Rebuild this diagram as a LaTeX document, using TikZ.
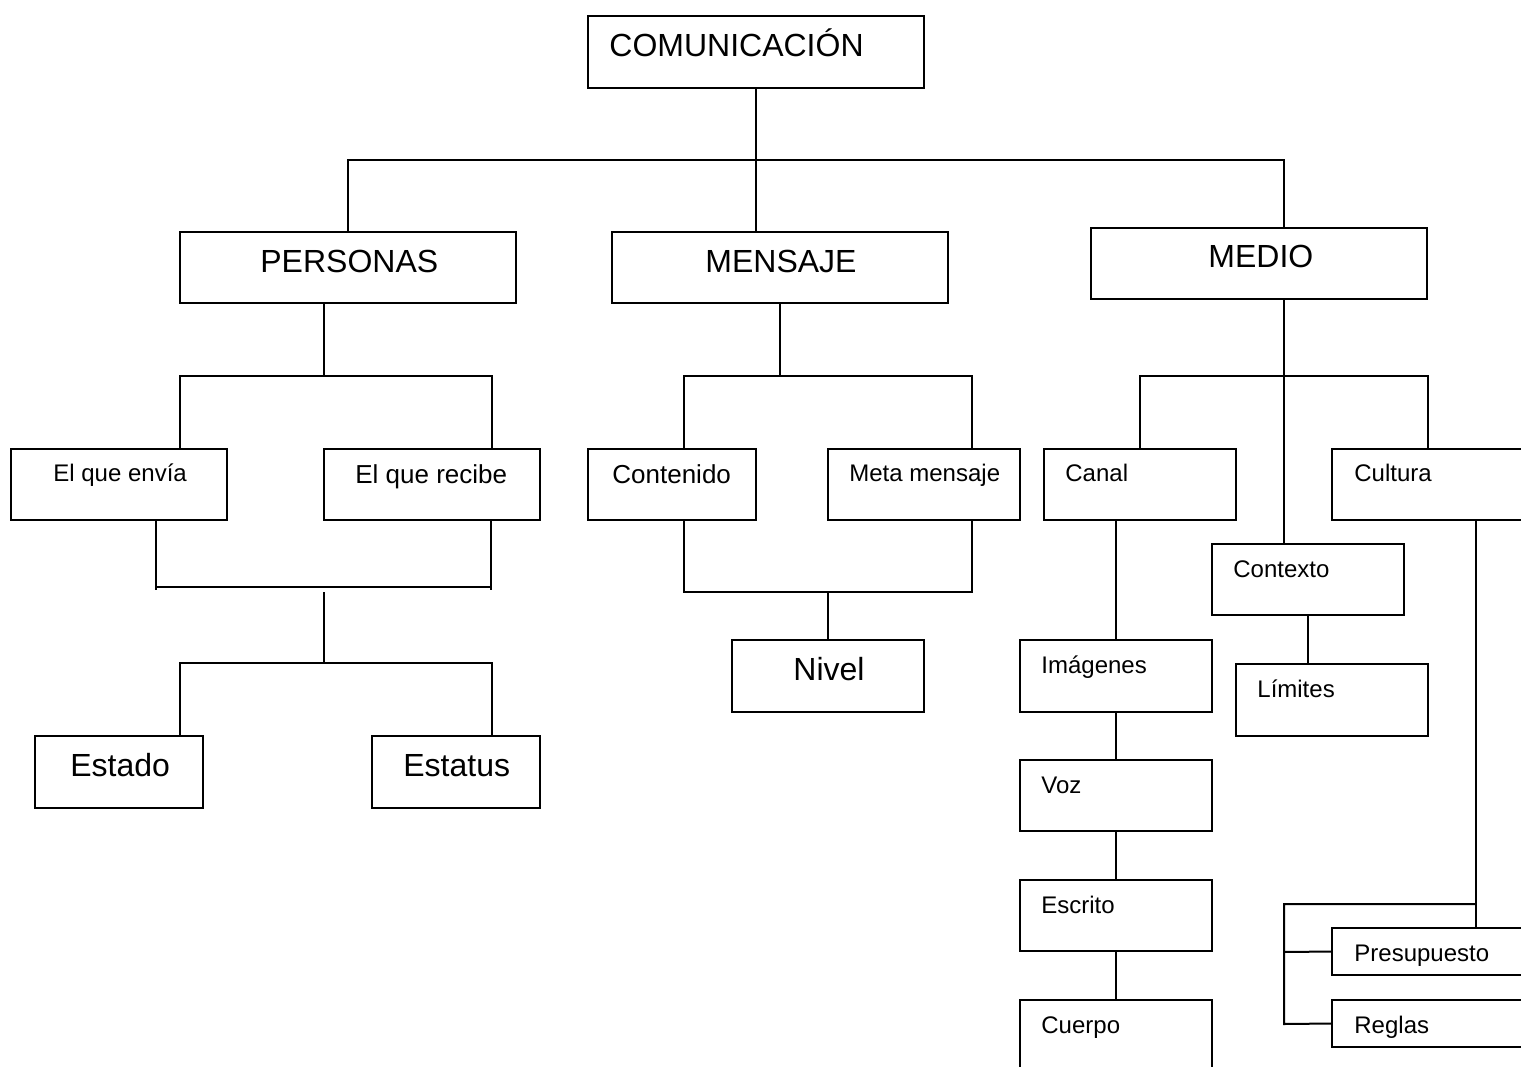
\documentclass[tikz,border=0pt]{standalone}
\usepackage{fontspec}
\setmainfont{Liberation Sans}
\begin{document}
\begin{tikzpicture}[x=0.5pt,y=-0.5pt,
  box/.style={draw,line width=1pt,anchor=north west,inner sep=0pt,outer sep=0pt},
  big/.style={anchor=base west,inner sep=0pt,font=\fontsize{16}{19}\selectfont},
  mid/.style={anchor=base west,inner sep=0pt,font=\fontsize{13}{16}\selectfont},
  sml/.style={anchor=base west,inner sep=0pt,font=\fontsize{12}{14}\selectfont},
  wire/.style={line width=1pt}]
\newcommand\bx[5]{\node[box,minimum width={(#4-#2)*0.5pt},minimum height={(#5-#3)*0.5pt}] (#1) at (#2,#3) {};}
\useasboundingbox (0,0) rectangle (1521,1066);
\fill[white] (0,0) rectangle (1521,1066);
\clip (0,0) rectangle (1521,1066);

% boxes (pixel grid, y downwards)
\bx{com}{588}{16}{924}{88}
\bx{per}{180}{232}{516}{303}
\bx{men}{612}{232}{948}{303}
\bx{med}{1091}{228}{1427}{299}
\bx{env}{11}{449}{227}{520}
\bx{rec}{324}{449}{540}{520}
\bx{con}{588}{449}{756}{520}
\bx{met}{828}{449}{1020}{520}
\bx{can}{1044}{449}{1236}{520}
\bx{cul}{1332}{449}{1640}{520}
\bx{ctx}{1212}{544}{1404}{615}
\bx{lim}{1236}{664}{1428}{736}
\bx{niv}{732}{640}{924}{712}
\bx{est}{35}{736}{203}{808}
\bx{sta}{372}{736}{540}{808}
\bx{ima}{1020}{640}{1212}{712}
\bx{voz}{1020}{760}{1212}{831}
\bx{esc}{1020}{880}{1212}{951}
\bx{cue}{1020}{1000}{1212}{1120}
\bx{pre}{1332}{928}{1640}{975}
\bx{reg}{1332}{1000}{1640}{1047}

% labels
\node[big] (comt) at (609,56) {COMUNICACIÓN};
\node[big] (pert) at (260,272) {PERSONAS};
\node[big] (ment) at (705,272) {MENSAJE};
\node[big] (medt) at (1208,267) {MEDIO};
\node[sml] (envt) at (53,481) {El que envía};
\node[mid] (rect) at (355,483) {El que recibe};
\node[mid] (cont) at (612,483) {Contenido};
\node[sml] (mett) at (849,481) {Meta mensaje};
\node[sml] (cant) at (1065,481) {Canal};
\node[sml] (cult) at (1354,481) {Cultura};
\node[sml] (ctxt) at (1233,577) {Contexto};
\node[sml] (limt) at (1257,697) {Límites};
\node[big] (nivt) at (793,680) {Nivel};
\node[big] (estt) at (70,776) {Estado};
\node[big] (stat) at (403,776) {Estatus};
\node[sml] (imat) at (1041,673) {Imágenes};
\node[sml] (vozt) at (1041,793) {Voz};
\node[sml] (esct) at (1041,913) {Escrito};
\node[sml] (cuet) at (1041,1033) {Cuerpo};
\node[sml] (pret) at (1354,961) {Presupuesto};
\node[sml] (regt) at (1354,1033) {Reglas};

% junction points
\coordinate (jt) at (756,160);
\coordinate (jp) at (324,376);
\coordinate (jm) at (780,376);
\coordinate (jn) at (828,592);
\coordinate (jd) at (1284,376);
\coordinate (jb) at (324,663);
\coordinate (jc) at (1476,904);
\coordinate (jr) at (1284,904);

% top level
\draw[wire] (com.south) -- (com.south |- men.north);
\draw[wire] (per.north) |- (jt) -| (med.north -| jd);

% PERSONAS branch
\draw[wire] (per.south -| jp) -- (jp);
\draw[wire] (env.north -| 180,0) |- (jp) -| (rec.north -| 492,0);
\draw[wire] (env.south -| 156,0) -- (156,590);
\draw[wire] (rec.south -| 491,0) -- (491,590);
\draw[wire] (155,587) -- (491,587);
\draw[wire] (324,592) -- (jb);
\draw[wire] (est.north -| 180,0) |- (jb) -| (sta.north -| 492,0);

% MENSAJE branch
\draw[wire] (men.south -| jm) -- (jm);
\draw[wire] (con.north -| 684,0) |- (jm) -| (met.north -| 972,0);
\draw[wire] (con.south -| 684,0) |- (jn) -| (met.south -| 972,0);
\draw[wire] (jn) -- (niv.north -| jn);

% MEDIO branch
\draw[wire] (med.south -| jd) -- (ctx.north -| jd);
\draw[wire] (can.north) |- (jd) -| (cul.north -| 1428,0);
\draw[wire] (can.south -| ima.north) -- (ima.north);
\draw[wire] (ima.south) -- (voz.north);
\draw[wire] (voz.south) -- (esc.north);
\draw[wire] (esc.south) -- (cue.north);
\draw[wire] (ctx.south) -- (ctx.south |- lim.north);
\draw[wire] (cul.south -| jc) -- (pre.north -| jc);
\draw[wire] (jc) -- (jr) -- (1284,1024) -- (reg.west);
\draw[wire] (1284,952) -- (pre.west);
\end{tikzpicture}
\end{document}
